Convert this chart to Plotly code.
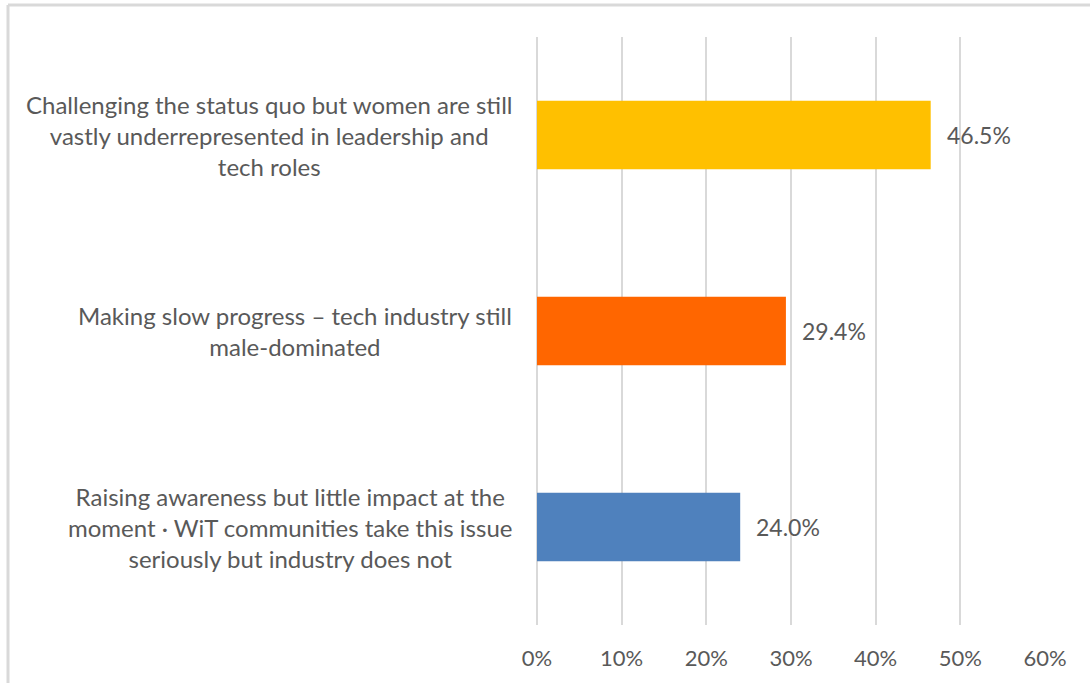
import plotly.graph_objects as go

# Survey responses, listed top to bottom
categories = [
    "Challenging the status quo but women are still<br>vastly underrepresented in leadership and<br>tech roles",
    "Making slow progress \u2013 tech industry still<br>male-dominated",
    "Raising awareness but little impact at the<br>moment \u00b7 WiT communities take this issue<br>seriously but industry does not",
]
shares = [46.5, 29.4, 24.0]
bar_colors = ["#FFC000", "#FF6600", "#4F81BD"]
x_ticks = [0, 10, 20, 30, 40, 50, 60]
x_tick_labels = [f"{t}%" for t in x_ticks]

FONT = "Lato, Calibri, Carlito, sans-serif"
TEXT_GRAY = "#595959"
GRID = "#D9D9D9"

W, H = 1090, 683
ML, MR, MT, MB = 537, 45, 37, 58
plot_w = W - ML - MR
plot_h = H - MT - MB

fig = go.Figure(
    go.Bar(
        x=shares,
        y=categories,
        orientation="h",
        marker=dict(color=bar_colors, line=dict(width=0)),
        width=0.35,
        hoverinfo="skip",
    )
)

# Value labels just past the end of each bar
for cat, v in zip(categories, shares):
    fig.add_annotation(
        x=v, xref="x", y=cat, yref="y",
        text=f"{v:.1f}%",
        showarrow=False,
        xanchor="left", yanchor="middle",
        xshift=14,
        font=dict(family=FONT, size=23, color=TEXT_GRAY),
    )

# Category labels as centered multi-line text, right-aligned to the axis
for cat in categories:
    fig.add_annotation(
        x=0, xref="paper", xshift=-23,
        y=cat, yref="y",
        text=cat,
        showarrow=False,
        xanchor="right",
        yanchor="middle",
        align="center",
        font=dict(family=FONT, size=24, color=TEXT_GRAY),
    )

# Light frame around the chart (top and left edges visible)
px_to_paper_x = lambda px: (px - ML) / plot_w
px_to_paper_y = lambda py: (H - MB - py) / plot_h
frame = dict(color="#D9D9D9", width=3)
fig.add_shape(type="line", xref="paper", yref="paper",
              x0=px_to_paper_x(8), x1=px_to_paper_x(W + 5),
              y0=px_to_paper_y(5), y1=px_to_paper_y(5), line=frame)
fig.add_shape(type="line", xref="paper", yref="paper",
              x0=px_to_paper_x(8), x1=px_to_paper_x(8),
              y0=px_to_paper_y(5), y1=px_to_paper_y(H + 5), line=frame)

fig.update_layout(
    width=W,
    height=H,
    margin=dict(l=ML, r=MR, t=MT, b=MB, pad=0),
    paper_bgcolor="white",
    plot_bgcolor="white",
    showlegend=False,
    bargap=0.65,
    xaxis=dict(
        range=[0, 60],
        tickvals=x_ticks,
        ticktext=x_tick_labels,
        showgrid=True,
        gridcolor=GRID,
        gridwidth=2,
        zeroline=True,
        zerolinecolor=GRID,
        zerolinewidth=2,
        showline=False,
        ticks="",
        ticklabelstandoff=18,
        tickfont=dict(family=FONT, size=22, color=TEXT_GRAY),
        fixedrange=True,
    ),
    yaxis=dict(
        autorange="reversed",
        showticklabels=False,
        showgrid=False,
        zeroline=False,
        showline=False,
        ticks="",
        fixedrange=True,
    ),
)

fig.write_html("out.html", config={"displayModeBar": False})
